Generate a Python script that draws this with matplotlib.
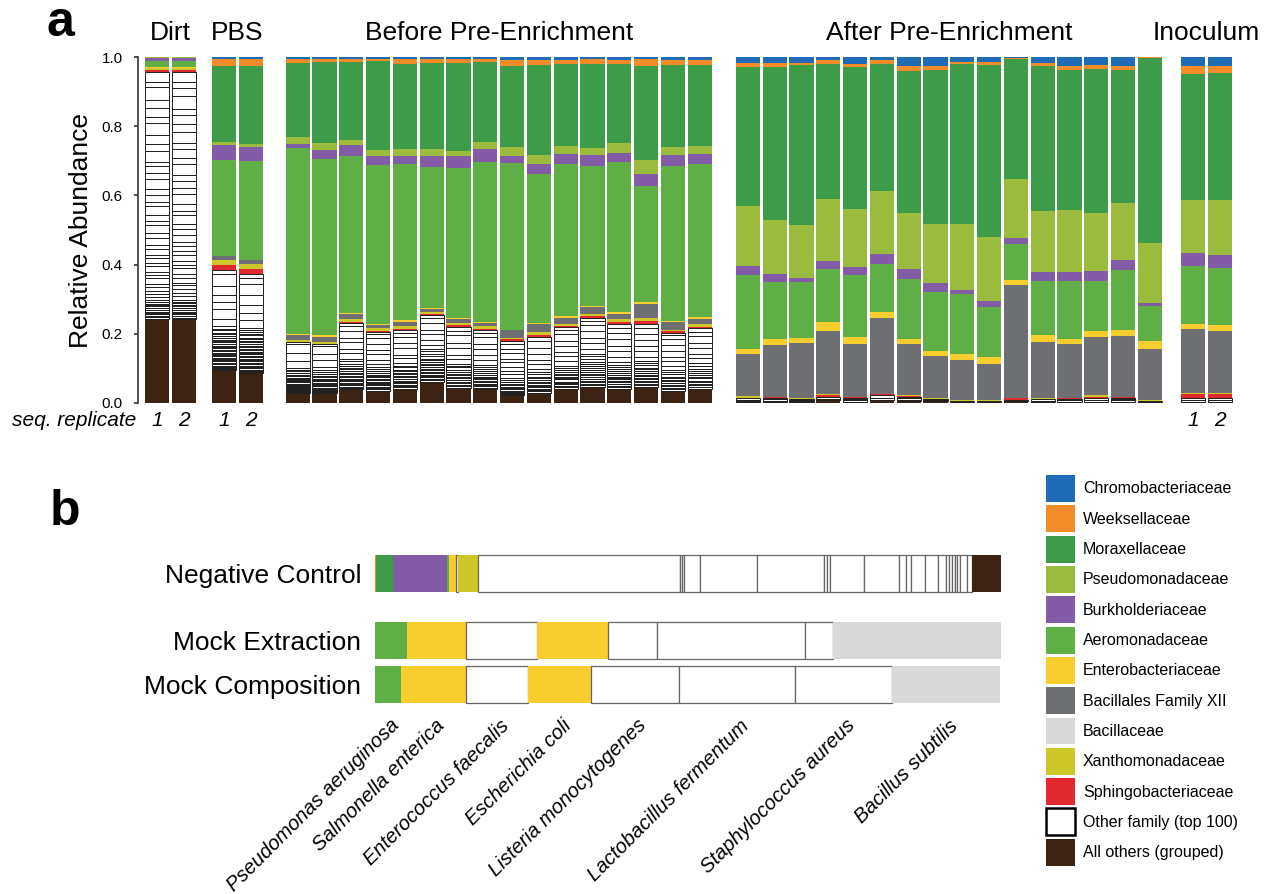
import numpy as np
import matplotlib.pyplot as plt
import matplotlib.transforms as mtransforms
from matplotlib.patches import Patch

plt.rcParams['font.family'] = ['Liberation Sans', 'DejaVu Sans']

W, H = 1271, 894

# family keys, legend labels and colours (legend order, top to bottom)
family_keys = ['chromo', 'weeks', 'morax', 'pseudo', 'burk', 'aero', 'entero',
               'bacxii', 'bacil', 'xantho', 'sphingo', 'other', 'grouped']
family_labels = ['Chromobacteriaceae', 'Weeksellaceae', 'Moraxellaceae', 'Pseudomonadaceae',
                 'Burkholderiaceae', 'Aeromonadaceae', 'Enterobacteriaceae',
                 'Bacillales Family XII', 'Bacillaceae', 'Xanthomonadaceae',
                 'Sphingobacteriaceae', 'Other family (top 100)', 'All others (grouped)']
family_colors = ['#1f6bb5', '#f28c28', '#3e9b47', '#9bbb3f', '#835ca8', '#5fae46', '#f8cd2e',
                 '#6e6f72', '#d9d9d9', '#cdc72a', '#e0282e', '#ffffff', '#3d2314']
color_of = dict(zip(family_keys, family_colors))

# ---- panel a: Dirt 1-2, PBS 1-2, Before 1-16, After 1-16, Inoculum 1-2
group_names = ['Dirt', 'PBS', 'Before Pre-Enrichment', 'After Pre-Enrichment', 'Inoculum']
group_sizes = [2, 2, 16, 16, 2]

chromo = [0, 0, .005, .005,
          .006, .004, .005, .004, .006, .006, .005, .005, .007, .007, .007, .006, .007, .006, .008, .007,
          .017, .017, .016, .008, .019, .008, .024, .024, .013, .014, .002, .017, .024, .021, .024, 0,
          .024, .024]
weeks = [0, 0, .021, .021,
         .010, .010, .010, .008, .013, .011, .011, .008, .017, .015, .013, .014, .013, .018, .014, .015,
         .012, .012, .007, .012, .010, .012, .017, .012, .007, .007, .003, .009, .014, .013, .014, .003,
         .024, .022]
morax = [0, 0, .218, .224,
         .214, .235, .224, .256, .246, .248, .254, .233, .237, .260, .236, .242, .229, .272, .236, .236,
         .402, .443, .463, .392, .409, .369, .409, .446, .464, .500, .348, .419, .405, .417, .382, .532,
         .364, .368]
pseudo = [.003, .003, .010, .010,
          .022, .021, .016, .018, .020, .020, .017, .021, .026, .028, .023, .022, .028, .041, .024, .021,
          .174, .156, .151, .178, .169, .183, .161, .171, .189, .185, .169, .176, .178, .168, .167, .173,
          .156, .159]
burk = [.008, .008, .042, .040,
        .010, .024, .032, .025, .025, .032, .033, .035, .018, .029, .029, .030, .027, .035, .031, .031,
        .026, .023, .014, .023, .024, .028, .029, .027, .013, .016, .018, .026, .026, .030, .029, .010,
        .037, .037]
aero = [.017, .017, .280, .287,
        .539, .511, .453, .461, .452, .409, .434, .464, .485, .430, .441, .405, .434, .336, .451, .443,
        .214, .165, .160, .155, .180, .138, .175, .171, .173, .145, .104, .158, .169, .145, .172, .099,
        .166, .166]
entero = [.003, .003, 0, 0,
          .005, .005, .004, .003, .005, .003, .005, .005, 0, .005, .004, .005, .004, .007, .003, .005,
          .017, .015, .016, .024, .019, .017, .014, .014, .017, .022, .016, .020, .015, .018, .019, .024,
          .015, .017]
bacxii = [0, 0, .012, .012,
          .014, .014, .014, .010, .013, .009, .010, .008, .022, .021, .017, .018, .017, .041, .021, .013,
          .122, .151, .159, .184, .154, .221, .147, .121, .116, .103, .326, .162, .154, .169, .175, .146,
          .185, .178]
xantho = [.007, .007, .014, .015,
          .006, .007, .008, .007, .007, .007, .007, .007, .005, .010, .006, .008, .007, .007, .005, .010,
          .004, 0, .003, .004, 0, 0, .003, .003, .004, .004, 0, .003, 0, .004, 0, .004,
          .004, .005]
sphingo = [.004, .004, .013, .012,
           0, 0, .003, .004, .003, .004, .005, .005, .005, .005, .004, .006, .005, .008, .003, .003,
           0, .003, 0, .005, .003, .005, .004, 0, 0, 0, .007, 0, .004, .004, .004, 0,
           .010, .009]
other = [.714, .714, .291, .289,
         .148, .143, .193, .170, .170, .192, .175, .171, .156, .162, .178, .198, .188, .183, .168, .175,
         .012, .012, .008, .008, .010, .013, .012, .008, .002, .002, .002, .007, .008, .010, .010, .003,
         .013, .013]
grouped = [.243, .243, .094, .085,
           .027, .027, .039, .035, .041, .061, .044, .039, .022, .029, .041, .046, .041, .046, .035, .041,
           .002, .002, .002, .008, .003, .008, .004, .004, .002, .002, .005, .003, .003, .003, .003, .002,
           .002, .002]

# individual "other family" members inside each bar, bottom to top (relative sizes)
other_parts = [
    [4, 3, 5, 4, 3, 6, 4, 5, 3, 4, 6, 5, 8, 10, 7, 12, 9, 14, 11, 8, 15, 10, 13, 9, 16, 12, 18, 14, 22,
     11, 17, 25, 13, 20, 16, 28, 15, 21, 12, 30, 19, 24, 33, 18, 26, 22, 35, 15, 28],
    [3, 5, 4, 4, 3, 5, 6, 4, 3, 5, 4, 6, 9, 8, 12, 10, 7, 13, 11, 15, 9, 12, 16, 10, 14, 11, 20, 16, 13,
     24, 12, 19, 27, 15, 21, 14, 30, 18, 23, 16, 32, 20, 25, 17, 36, 22, 14, 29],
    [3, 4, 3, 3, 4, 3, 5, 3, 4, 3, 3, 4, 3, 4, 5, 3, 4, 3, 4, 5, 4, 3, 5, 4, 6, 4, 5, 6, 5, 7,
     19, 29, 19, 19, 24, 34, 12],
    [4, 3, 3, 4, 3, 4, 3, 3, 5, 4, 3, 4, 3, 5, 4, 3, 4, 3, 5, 4, 4, 6, 3, 5, 4, 6, 5, 4, 7, 5,
     22, 18, 21, 26, 30, 17, 12],
    [3, 4, 3, 3, 4, 3, 4, 3, 3, 4, 3, 4, 3, 4, 5, 4, 5, 6, 5, 6, 22, 24, 27, 6],
    [4, 3, 3, 4, 3, 5, 3, 4, 3, 4, 3, 4, 5, 4, 6, 5, 8, 7, 20, 18, 26, 5],
    [3, 3, 4, 3, 4, 3, 3, 4, 5, 3, 4, 3, 4, 5, 4, 6, 5, 7, 6, 14, 12, 16, 11, 18, 13, 9],
    [4, 3, 4, 3, 3, 4, 3, 5, 3, 4, 4, 3, 5, 4, 6, 5, 9, 11, 14, 12, 17, 15, 10, 6],
    [3, 4, 3, 4, 3, 3, 5, 4, 3, 4, 3, 5, 4, 6, 4, 7, 12, 10, 16, 13, 15, 11, 8],
    [3, 3, 4, 3, 4, 3, 4, 3, 3, 4, 5, 3, 4, 5, 4, 6, 5, 7, 6, 8, 12, 14, 11, 16, 13, 5],
    [4, 3, 4, 3, 5, 3, 4, 3, 4, 5, 4, 6, 4, 5, 12, 10, 15, 13, 18, 11, 9],
    [3, 4, 3, 3, 5, 3, 4, 4, 3, 4, 5, 4, 6, 5, 6, 11, 13, 16, 12, 17, 10, 8],
    [3, 3, 4, 3, 4, 3, 4, 5, 4, 6, 5, 8, 10, 9, 12, 14, 11, 16, 13, 15, 8],
    [4, 3, 3, 4, 3, 4, 5, 3, 4, 5, 4, 6, 5, 9, 13, 11, 16, 14, 18, 12],
    [3, 4, 3, 4, 3, 5, 3, 4, 4, 3, 5, 4, 6, 4, 11, 13, 10, 15, 12, 17, 9, 8],
    [4, 3, 4, 3, 4, 5, 3, 4, 3, 5, 4, 5, 4, 6, 5, 7, 5, 12, 14, 11, 16, 13, 9, 6],
    [3, 4, 3, 5, 3, 4, 4, 3, 5, 4, 5, 4, 6, 5, 7, 11, 15, 12, 18, 13, 14, 10],
    [4, 3, 4, 3, 5, 4, 3, 4, 5, 4, 5, 4, 6, 5, 7, 10, 14, 12, 17, 13, 16, 11],
    [3, 4, 3, 4, 5, 3, 4, 3, 4, 5, 6, 5, 8, 12, 10, 15, 14, 13, 9, 7],
    [4, 3, 4, 3, 4, 5, 3, 4, 5, 4, 6, 5, 7, 11, 9, 14, 12, 15, 10, 8],
    [4, 3, 5], [3, 5, 4], [2, 3, 3], [3, 5], [4, 3, 3], [6, 7], [5, 4, 3], [3, 5],
    [2], [2], [2], [3, 4], [4, 4], [5, 5], [4, 3, 3], [3],
    [6, 7], [7, 6],
]

# stacking order in panel a, bottom to top
stack_a = [('grouped', grouped), ('other', other), ('sphingo', sphingo), ('xantho', xantho),
           ('bacxii', bacxii), ('entero', entero), ('aero', aero), ('burk', burk),
           ('pseudo', pseudo), ('morax', morax), ('weeks', weeks), ('chromo', chromo)]

# ---- panel b
neg_control = [0.002, 0.027, 0.086, 0.003, 0.012, 0.003, 0.031, 0.324, 0.003, 0.003, 0.025, 0.091,
               0.108, 0.004, 0.005, 0.054, 0.056, 0.012, 0.008, 0.022, 0.020, 0.013, 0.005, 0.004,
               0.005, 0.004, 0.005, 0.010, 0.008, 0.049]
neg_family = ['weeks', 'morax', 'burk', 'aero', 'entero', 'other', 'xantho', 'other', 'other',
              'other', 'other', 'other', 'other', 'other', 'other', 'other', 'other', 'other',
              'other', 'other', 'other', 'other', 'other', 'other', 'other', 'other', 'other',
              'other', 'other', 'grouped']
mock_extraction = [0.051, 0.094, 0.114, 0.114, 0.078, 0.236, 0.044, 0.270]
mock_composition = [0.041, 0.104, 0.100, 0.100, 0.141, 0.185, 0.155, 0.173]
mock_family = ['aero', 'entero', 'other', 'entero', 'other', 'other', 'other', 'bacil']
species = ['Pseudomonas aeruginosa', 'Salmonella enterica', 'Enterococcus faecalis',
           'Escherichia coli', 'Listeria monocytogenes', 'Lactobacillus fermentum',
           'Staphylococcus aureus', 'Bacillus subtilis']
row_labels = ['Negative Control', 'Mock Extraction', 'Mock Composition']


def px_box(left, top, right, bottom):
    return [left / W, 1 - bottom / H, (right - left) / W, (bottom - top) / H]


fig = plt.figure(figsize=(W / 100, H / 100), dpi=100)

# ================= panel a =================
ax = fig.add_axes(px_box(138, 57.3, 1240, 402.7))
group_start = [0, 2.5, 5.25, 22.05, 38.65]
xpos = np.concatenate([s + np.arange(n) for s, n in zip(group_start, group_sizes)])
bw = 0.9

data = np.array([v for _, v in stack_a], float)
frac = data / data.sum(axis=0)
bottom = np.zeros(len(xpos))
for (key, _), h in zip(stack_a, frac):
    if key == 'other':
        for i, parts in enumerate(other_parts):
            p = np.array(parts, float)
            seg = p / p.sum() * h[i]
            b = bottom[i] + np.concatenate([[0], np.cumsum(seg)[:-1]])
            ax.bar(np.full(len(seg), xpos[i]), seg, bottom=b, width=bw,
                   color='white', edgecolor='#1e1e1e', linewidth=0.7)
    else:
        ax.bar(xpos, h, bottom=bottom, width=bw, color=color_of[key], edgecolor='none')
    bottom += h

ax.set_xlim(-0.709, 40.41)
ax.set_ylim(0, 1)
for s in ['top', 'right', 'bottom']:
    ax.spines[s].set_visible(False)
ax.spines['left'].set_color('#333333')
ax.spines['left'].set_linewidth(1.2)
ax.set_xticks([])
ax.set_yticks([0, 0.2, 0.4, 0.6, 0.8, 1.0])
ax.set_yticklabels(['0.0', '0.2', '0.4', '0.6', '0.8', '1.0'])
ax.tick_params(axis='y', length=3, width=1.2, color='#333333', pad=8, labelsize=11)
ax.set_ylabel('Relative Abundance', fontsize=19, labelpad=6)

xt = ax.get_xaxis_transform()
for name, s, n in zip(group_names, group_start, group_sizes):
    ax.text(s + (n - 1) / 2, 1.0515, name, transform=xt, ha='center', va='baseline', fontsize=19)

fig.text(136.7 / W, 1 - 426 / H, 'seq. replicate', ha='right', va='baseline',
         style='italic', fontsize=15)
for gi in [0, 1, 4]:
    for r in range(2):
        ax.text(group_start[gi] + r, -0.068, str(r + 1), transform=xt, ha='center',
                va='baseline', style='italic', fontsize=15)

# ================= panel b =================
axb = fig.add_axes(px_box(375, 548, 1001, 712))
rows = [0, 1.81, 3.0]
for y, vals, fams in zip(rows, [neg_control, mock_extraction, mock_composition],
                         [neg_family, mock_family, mock_family]):
    left = 0.0
    for v, f in zip(vals, fams):
        if f == 'other':
            axb.barh(y, v, left=left, height=1.0, color='white', edgecolor='#666666', linewidth=0.9)
        else:
            axb.barh(y, v, left=left, height=1.0, color=color_of[f], edgecolor='none')
        left += v

axb.set_xlim(0, 1)
axb.set_ylim(3.743, -0.689)
for s in axb.spines.values():
    s.set_visible(False)
axb.set_xticks([])
axb.set_yticks(rows)
axb.set_yticklabels(row_labels, fontsize=19)
axb.tick_params(axis='y', length=0, pad=10)

mids = np.cumsum(mock_composition) - np.array(mock_composition) / 2
shift = mtransforms.ScaledTranslation(0.02, 0, fig.dpi_scale_trans)
for m, name in zip(mids, species):
    axb.text(m, 3.85, name, transform=axb.transData + shift, rotation=45, ha='right', va='top',
             rotation_mode='anchor', style='italic', fontsize=14.5, clip_on=False)

# legend
handles = []
for key, c in zip(family_keys, family_colors):
    if key == 'other':
        handles.append(Patch(facecolor='white', edgecolor='black', linewidth=1.8))
    else:
        handles.append(Patch(facecolor=c, edgecolor='none'))
fig.legend(handles, family_labels, loc='upper left', bbox_to_anchor=(1046 / W, 1 - 475 / H),
           frameon=False, fontsize=11.5, handlelength=1.81, handleheight=2.22,
           labelspacing=0.21, handletextpad=0.5, borderpad=0, borderaxespad=0)

fig.text(46 / W, 1 - 36 / H, 'a', fontsize=36, fontweight='bold', va='baseline')
fig.text(50 / W, 1 - 525 / H, 'b', fontsize=36, fontweight='bold', va='baseline')

fig.savefig('out.png', dpi=100)
